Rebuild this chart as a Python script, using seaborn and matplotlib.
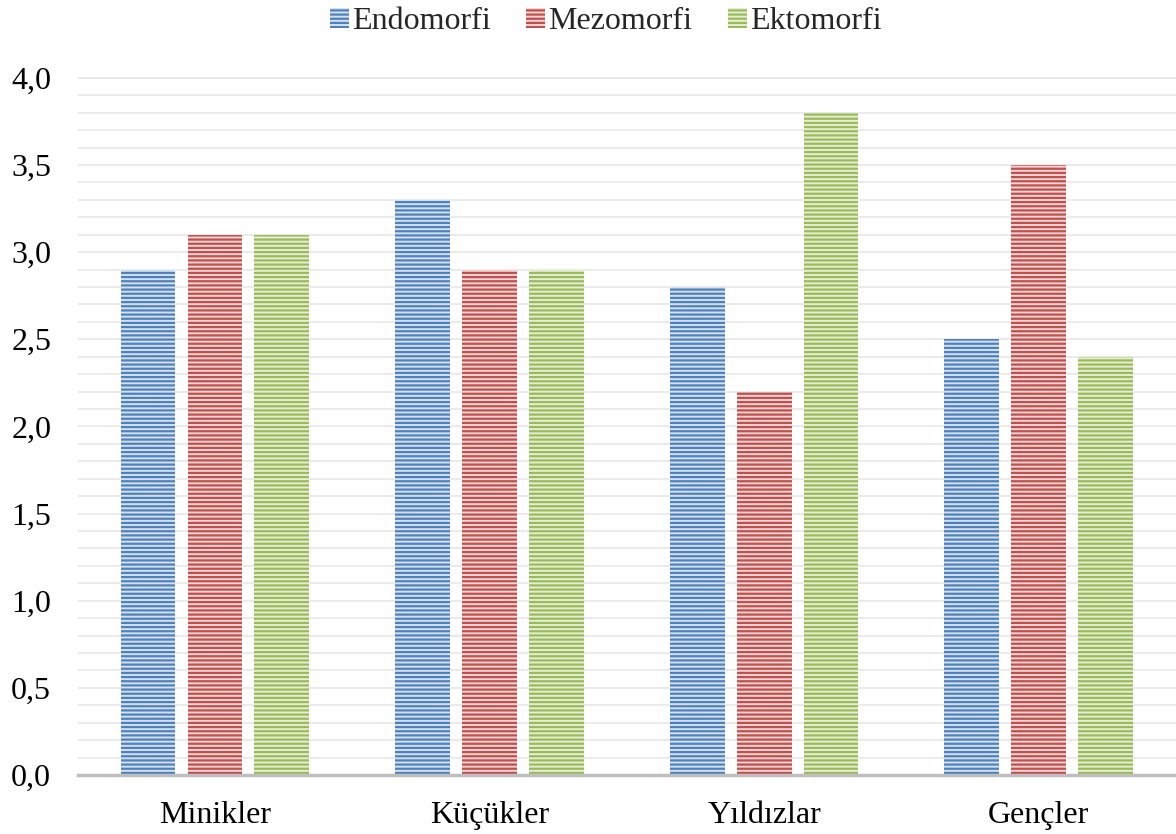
import numpy as np
import pandas as pd
import matplotlib
matplotlib.use("Agg")
import matplotlib.pyplot as plt
import seaborn as sns
from matplotlib.ticker import MultipleLocator, FuncFormatter
from matplotlib.patches import Patch

groups = ["Minikler", "Küçükler", "Yıldızlar", "Gençler"]
series = ["Endomorfi", "Mezomorfi", "Ektomorfi"]
endomorfi = [2.9, 3.3, 2.8, 2.5]
mezomorfi = [3.1, 2.9, 2.2, 3.5]
ektomorfi = [3.1, 2.9, 3.8, 2.4]

dark = ["#4F81BD", "#C0504D", "#9BBB59"]
light = ["#D5E1F0", "#F0D5D4", "#E6EED6"]

df = pd.DataFrame({
    "grup": groups * 3,
    "seri": [s for s in series for _ in groups],
    "deger": endomorfi + mezomorfi + ektomorfi,
})

sns.set_theme(style="white")
plt.rcParams["font.family"] = ["Liberation Serif", "DejaVu Serif"]
plt.rcParams["hatch.linewidth"] = 1.6

fig = plt.figure(figsize=(11.76, 8.34), dpi=100)
ax = fig.add_axes([0.066, 0.0707, 0.934, 0.837])

sns.barplot(data=df, x="grup", y="deger", hue="seri", order=groups,
            hue_order=series, palette=light, width=0.73, gap=0.18,
            ax=ax, legend=False, zorder=3)

# striped fill: pale face with full-colour horizontal hatch lines
for i, cont in enumerate(ax.containers):
    for bar in cont:
        bar.set_facecolor(light[i])
        bar.set_edgecolor(dark[i])
        bar.set_linewidth(0)
        bar.set_hatch("----")

ax.set_ylim(0, 4.005)
ax.set_xlim(-0.5, 3.5)
ax.yaxis.set_major_locator(MultipleLocator(0.5))
ax.yaxis.set_minor_locator(MultipleLocator(0.1))
ax.yaxis.set_major_formatter(FuncFormatter(lambda v, p: f"{v:.1f}".replace(".", ",")))
ax.grid(axis="y", which="both", color="#EBEBEB", linewidth=1.5, zorder=0)
ax.grid(axis="x", visible=False)
ax.set_axisbelow(True)

for s in ["left", "right", "top"]:
    ax.spines[s].set_visible(False)
ax.spines["bottom"].set_color("#BFBFBF")
ax.spines["bottom"].set_linewidth(2.5)
ax.spines["bottom"].set_zorder(4)

ax.tick_params(axis="y", which="both", length=0, pad=19, labelsize=23, labelcolor="black")
ax.tick_params(axis="x", length=0, pad=19, labelsize=23, labelcolor="black")
ax.set_xlabel("")
ax.set_ylabel("")

handles = [Patch(facecolor=light[i], edgecolor=dark[i], hatch="----", linewidth=0)
           for i in range(3)]
fig.legend(handles, series, loc="center", bbox_to_anchor=(0.515, 0.974), ncol=3,
           frameon=False, fontsize=23, handlelength=0.6, handleheight=0.6,
           handletextpad=0.1, columnspacing=1.1)

fig.savefig("out.png", dpi=100)
